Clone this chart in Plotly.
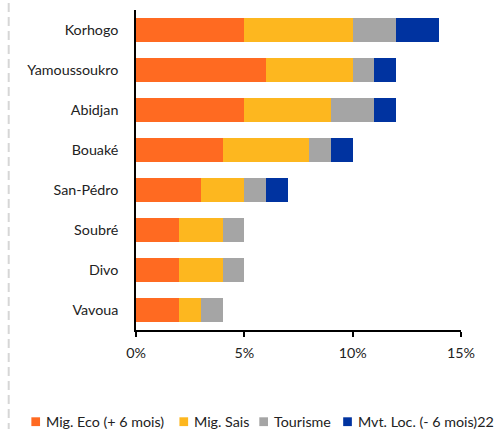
import plotly.graph_objects as go

# Cities, listed top to bottom
cities = ["Korhogo", "Yamoussoukro", "Abidjan", "Bouaké", "San-Pédro", "Soubré", "Divo", "Vavoua"]

# Share of each movement type (%)
mig_eco = [5, 6, 5, 4, 3, 2, 2, 2]
mig_sais = [5, 4, 4, 4, 2, 2, 2, 1]
tourisme = [2, 1, 2, 1, 1, 1, 1, 1]
mvt_loc = [2, 1, 1, 1, 1, 0, 0, 0]

series_names = ["Mig. Eco (+ 6 mois)", "Mig. Sais", "Tourisme", "Mvt. Loc. (- 6 mois)22"]
series_values = [mig_eco, mig_sais, tourisme, mvt_loc]
series_colors = ["#FF6A21", "#FDB71F", "#A5A5A5", "#0033A0"]

x_ticks = [0, 5, 10, 15]
x_tick_text = ["0%", "5%", "10%", "15%"]

FONT = "Lato"
FSIZE = 14.3
W, H = 500, 429
ML, MR, MT, MB = 135.5, 39, 10, 99
PW, PH = W - ML - MR, H - MT - MB


def px_x(px):
    return (px - ML) / PW


def px_y(py):
    return (H - MB - py) / PH


fig = go.Figure()
for name, vals, color in zip(series_names, series_values, series_colors):
    fig.add_trace(go.Bar(
        y=cities, x=vals, name=name, orientation="h",
        marker=dict(color=color, line=dict(width=0)),
        showlegend=False,
    ))

# Legend row along the bottom: square key + label per series
key_left = [30.7, 179, 259, 343]
shapes = []
annotations = []
legend_y = 421.7
for name, color, kx in zip(series_names, series_colors, key_left):
    shapes.append(dict(
        type="rect", xref="paper", yref="paper",
        x0=px_x(kx), x1=px_x(kx + 8.7),
        y0=px_y(legend_y + 4.4), y1=px_y(legend_y - 4.4),
        fillcolor=color, line=dict(width=0),
    ))
    annotations.append(dict(
        xref="paper", yref="paper", x=px_x(kx + 12.5), y=px_y(legend_y),
        xanchor="left", yanchor="middle", showarrow=False, text=name,
        font=dict(family=FONT, size=FSIZE, color="#222222"),
    ))

# Dashed separator on the far left
shapes.append(dict(
    type="line", xref="paper", yref="paper",
    x0=px_x(8), x1=px_x(8), y0=px_y(432), y1=px_y(-2),
    line=dict(color="#D6D6D6", width=2, dash="9px,5px"),
))

fig.update_layout(
    barmode="stack",
    bargap=0.4,
    width=W, height=H,
    margin=dict(l=ML, r=MR, t=MT, b=MB, autoexpand=False),
    paper_bgcolor="white", plot_bgcolor="white",
    font=dict(family=FONT, size=FSIZE, color="#222222"),
    showlegend=False,
    xaxis=dict(
        range=[0, 15], tickvals=x_ticks, ticktext=x_tick_text,
        showgrid=False, zeroline=False,
        showline=True, linecolor="black", linewidth=1.5,
        ticks="outside", ticklen=5, tickcolor="black", tickwidth=1.5,
        ticklabelstandoff=4, fixedrange=True,
    ),
    yaxis=dict(
        autorange="reversed", showgrid=False, zeroline=False,
        showline=True, linecolor="black", linewidth=1.5,
        ticks="", ticklabelstandoff=13, fixedrange=True,
    ),
    shapes=shapes,
    annotations=annotations,
)

fig.write_html("out.html")
